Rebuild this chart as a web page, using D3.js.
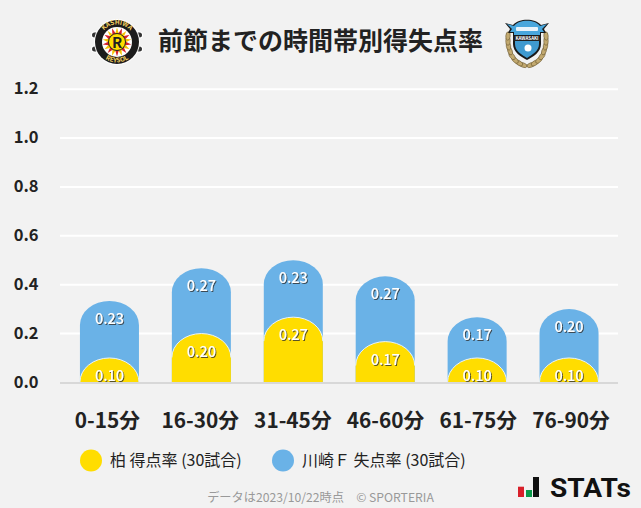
<!DOCTYPE html>
<html><head><meta charset="utf-8">
<script src="https://cdn.jsdelivr.net/npm/d3@7/dist/d3.min.js"></script>
<style>
html,body{margin:0;padding:0;background:#f2f2f2;overflow:hidden}
text{font-family:"Noto Sans CJK JP","Noto Sans",sans-serif}
</style></head><body>
<svg id="c" width="641" height="508"></svg>
<script>
const titleText = "前節までの時間帯別得失点率";
const categories = ["0-15分","16-30分","31-45分","46-60分","61-75分","76-90分"];
const scoredRate = [0.100,0.200,0.267,0.167,0.100,0.100];
const concededRate = [0.233,0.267,0.233,0.267,0.167,0.200];
const yTicks = [0,0.2,0.4,0.6,0.8,1.0,1.2];
const legendLabels = ["柏 得点率 (30試合)","川崎Ｆ 失点率 (30試合)"];
const footnote = "データは2023/10/22時点　© SPORTERIA";
const YELLOW="#ffdd00", BLUE="#6ab2e7";

const svg=d3.select("#c");
svg.append("rect").attr("width",641).attr("height",508).attr("fill","#f2f2f2");
const defs=svg.append("defs");
const f=defs.append("filter").attr("id","ts").attr("x","-20%").attr("y","-20%").attr("width","140%").attr("height","140%");
f.append("feDropShadow").attr("dx",1).attr("dy",1).attr("stdDeviation",0.4).attr("flood-color","#333").attr("flood-opacity",0.8);

const x=d3.scaleBand().domain(categories).range([63.5,615]).paddingInner(0.358).paddingOuter(0.179);
const xLabel=d3.scalePoint().domain(categories).range([107.5,571]);
const y=d3.scaleLinear().domain([0,1.2]).range([382.4,89.2]);

svg.append("g").selectAll("line").data(yTicks.slice(1)).join("line")
  .attr("x1",60).attr("x2",618).attr("y1",d=>y(d)).attr("y2",d=>y(d))
  .attr("stroke","#fff").attr("stroke-width",2);

svg.append("g").selectAll("text").data(yTicks).join("text")
  .attr("x",38.5).attr("y",d=>y(d)+5.2).attr("text-anchor","end")
  .attr("font-size",16.5).attr("font-weight",700).attr("fill","#222")
  .text(d=>d.toFixed(1));

const ry=24;
function barPath(d0,d1,band){
  const l=x(band),w=x.bandwidth(),r=l+w,rx=w/2,t=y(d1),b=y(d0);
  const h=b-t;
  if(h<=ry){
    const k=Math.sqrt(Math.max(0,1-Math.pow((ry-h)/ry,2)))*rx;
    return `M${l+rx-k},${b}A${rx},${ry} 0 0 1 ${l+rx+k},${b}Z`;
  }
  return `M${l},${b}V${t+ry}A${rx},${ry} 0 0 1 ${r},${t+ry}V${b}Z`;
}
function arcTop(d1,band){
  const l=x(band),w=x.bandwidth(),t=y(d1);
  return `M${l},${t+ry}A${w/2},${ry} 0 0 1 ${l+w},${t+ry}`;
}

const bars=svg.append("g");
categories.forEach((c,i)=>{
  const g=bars.append("g");
  const tot=scoredRate[i]+concededRate[i];
  g.append("path").attr("d",barPath(0,tot,c)).attr("fill",BLUE);
  g.append("path").attr("d",barPath(0,scoredRate[i],c)).attr("fill",YELLOW);
  g.append("path").attr("d",arcTop(Math.max(scoredRate[i],0.1),c)).attr("fill","none").attr("stroke","#e8f3fb").attr("stroke-width",1);
});

svg.append("line").attr("x1",60).attr("x2",618).attr("y1",y(0)+0.5).attr("y2",y(0)+0.5).attr("stroke","#d8d8d8").attr("stroke-width",2);

const lab=svg.append("g").attr("filter","url(#ts)");
categories.forEach((c,i)=>{
  const cx=x(c)+x.bandwidth()/2;
  const tot=scoredRate[i]+concededRate[i];
  lab.append("text").attr("x",cx).attr("y",y(tot)+23).attr("text-anchor","middle").attr("font-size",14.5).attr("font-weight",500).attr("fill","#fff").text(concededRate[i].toFixed(2));
  lab.append("text").attr("x",cx).attr("y",y(scoredRate[i])+23).attr("text-anchor","middle").attr("font-size",14.5).attr("font-weight",500).attr("fill","#fff").text(scoredRate[i].toFixed(2));
});

svg.append("g").selectAll("text").data(categories).join("text")
  .attr("x",d=>xLabel(d)).attr("y",427.5).attr("text-anchor","middle")
  .attr("font-size",20.8).attr("font-weight",700).attr("fill","#222").text(d=>d);

svg.append("text").attr("x",320.5).attr("y",50).attr("text-anchor","middle").attr("font-size",25).attr("font-weight",700).attr("fill","#222").text(titleText);

svg.append("circle").attr("cx",91).attr("cy",460.5).attr("r",11).attr("fill",YELLOW);
svg.append("text").attr("x",110).attr("y",466).attr("font-size",16).attr("fill","#222").text(legendLabels[0]);
svg.append("circle").attr("cx",283).attr("cy",460.5).attr("r",11).attr("fill",BLUE);
svg.append("text").attr("x",302).attr("y",466).attr("font-size",16).attr("fill","#222").text(legendLabels[1]);

svg.append("text").attr("x",320.5).attr("y",502).attr("text-anchor","middle").attr("font-size",12.2).attr("fill","#999").text(footnote);

// Kashiwa crest
const k=svg.append("g").attr("transform","translate(117,42)");
[-7,7].forEach(dy=>{
  k.append("rect").attr("x",-26).attr("y",dy-3.5).attr("width",52).attr("height",7).attr("rx",3.5).attr("fill","#fff");
  k.append("rect").attr("x",-25).attr("y",dy-2.5).attr("width",50).attr("height",5).attr("rx",2.5).attr("fill","#333");
});
k.append("circle").attr("r",23).attr("fill","#fff");
k.append("circle").attr("r",22).attr("fill","#1c1c1c");
k.append("circle").attr("r",15).attr("fill","#fff");
d3.range(18).forEach(i=>k.append("path").attr("d","M-2.2,-7L0,-14.5L2.2,-7Z").attr("fill",i%2?"#d8202a":"#f5c400").attr("transform",`rotate(${i*20})`));
k.append("circle").attr("r",8.5).attr("fill","#ffdd00").attr("stroke","#222").attr("stroke-width",1);
k.append("text").attr("y",5.5).attr("text-anchor","middle").attr("font-size",15).attr("font-weight",700).attr("fill","#222").text("R");
defs.append("path").attr("id","kTop").attr("d","M-17.5,0A17.5,17.5 0 0 1 17.5,0");
defs.append("path").attr("id","kBot").attr("d","M-20.5,0A20.5,20.5 0 0 0 20.5,0");
k.append("text").attr("font-size",6.5).attr("font-weight",700).attr("fill","#f5d060").attr("text-anchor","middle")
  .append("textPath").attr("href","#kTop").attr("startOffset","50%").text("KASHIWA");
k.append("text").attr("font-size",6.5).attr("font-weight",700).attr("fill","#f5d060").attr("text-anchor","middle")
  .append("textPath").attr("href","#kBot").attr("startOffset","50%").text("REYSOL");

// Kawasaki crest
const w=svg.append("g").attr("transform","translate(527,42)");
[-1,1].forEach(s=>{
  const lg=w.append("g").attr("transform",`scale(${s},1)`);
  lg.append("path").attr("d","M2,24C12,21 19,12 19,-5").attr("fill","none").attr("stroke","#5a4a2a").attr("stroke-width",1);
  [[4,23,70],[8,21,60],[12,18,45],[15,14,35],[17,9,20],[18.5,4,10],[19,-1,0],[19,-6,-5]].forEach(p=>{
    lg.append("ellipse").attr("cx",p[0]).attr("cy",p[1]).attr("rx",2.2).attr("ry",4.2).attr("fill","#c2a96f").attr("stroke","#6a5830").attr("stroke-width",0.6).attr("transform",`rotate(${p[2]} ${p[0]} ${p[1]})`);
  });
});
w.append("path").attr("d","M-14,-14H14V2C14,10 6,15 0,18C-6,15 -14,10 -14,2Z").attr("fill","#1a1a1a");
w.append("path").attr("d","M-12,-2H12V2C12,9 5,13 0,16C-5,13 -12,9 -12,2Z").attr("fill","#3f9ad0");
w.append("circle").attr("cx",1).attr("cy",6).attr("r",3.5).attr("fill","#fff");
w.append("path").attr("d","M-22,-19L-14,-17C-8,-24 8,-24 14,-17L22,-19L17,-13L19,-9L14,-9L14,-6H-14V-9L-19,-9L-17,-13Z").attr("fill","#1a1a1a");
w.append("path").attr("d","M-20,-18L-13,-16C-8,-23 8,-23 13,-16L20,-18L15,-13L17,-10L13,-10V-7H-13V-10L-17,-10L-15,-13Z").attr("fill","#48a6dc");
w.append("rect").attr("x",-11).attr("y",-15).attr("width",22).attr("height",4).attr("rx",1).attr("fill","#e8f3fb");
w.append("rect").attr("x",-14).attr("y",-6).attr("width",28).attr("height",5).attr("fill","#222");
w.append("text").attr("y",-2).attr("text-anchor","middle").attr("font-size",4.5).attr("font-weight",700).attr("fill","#fff").text("KAWASAKI");

// STATs logo
const s=svg.append("g");
s.append("rect").attr("x",518).attr("y",486.7).attr("width",6).attr("height",10.3).attr("fill","#d8202a");
s.append("rect").attr("x",526).attr("y",490).attr("width",6).attr("height",7).attr("fill","#0a9a4a");
s.append("rect").attr("x",533).attr("y",477).attr("width",6).attr("height",20).attr("fill","#111");
s.append("text").attr("x",550).attr("y",497).attr("font-size",25).attr("font-weight",700).attr("fill","#111").attr("textLength",81).attr("lengthAdjust","spacingAndGlyphs").style("font-family","Roboto,sans-serif").text("STATs");
</script>
</body></html>
